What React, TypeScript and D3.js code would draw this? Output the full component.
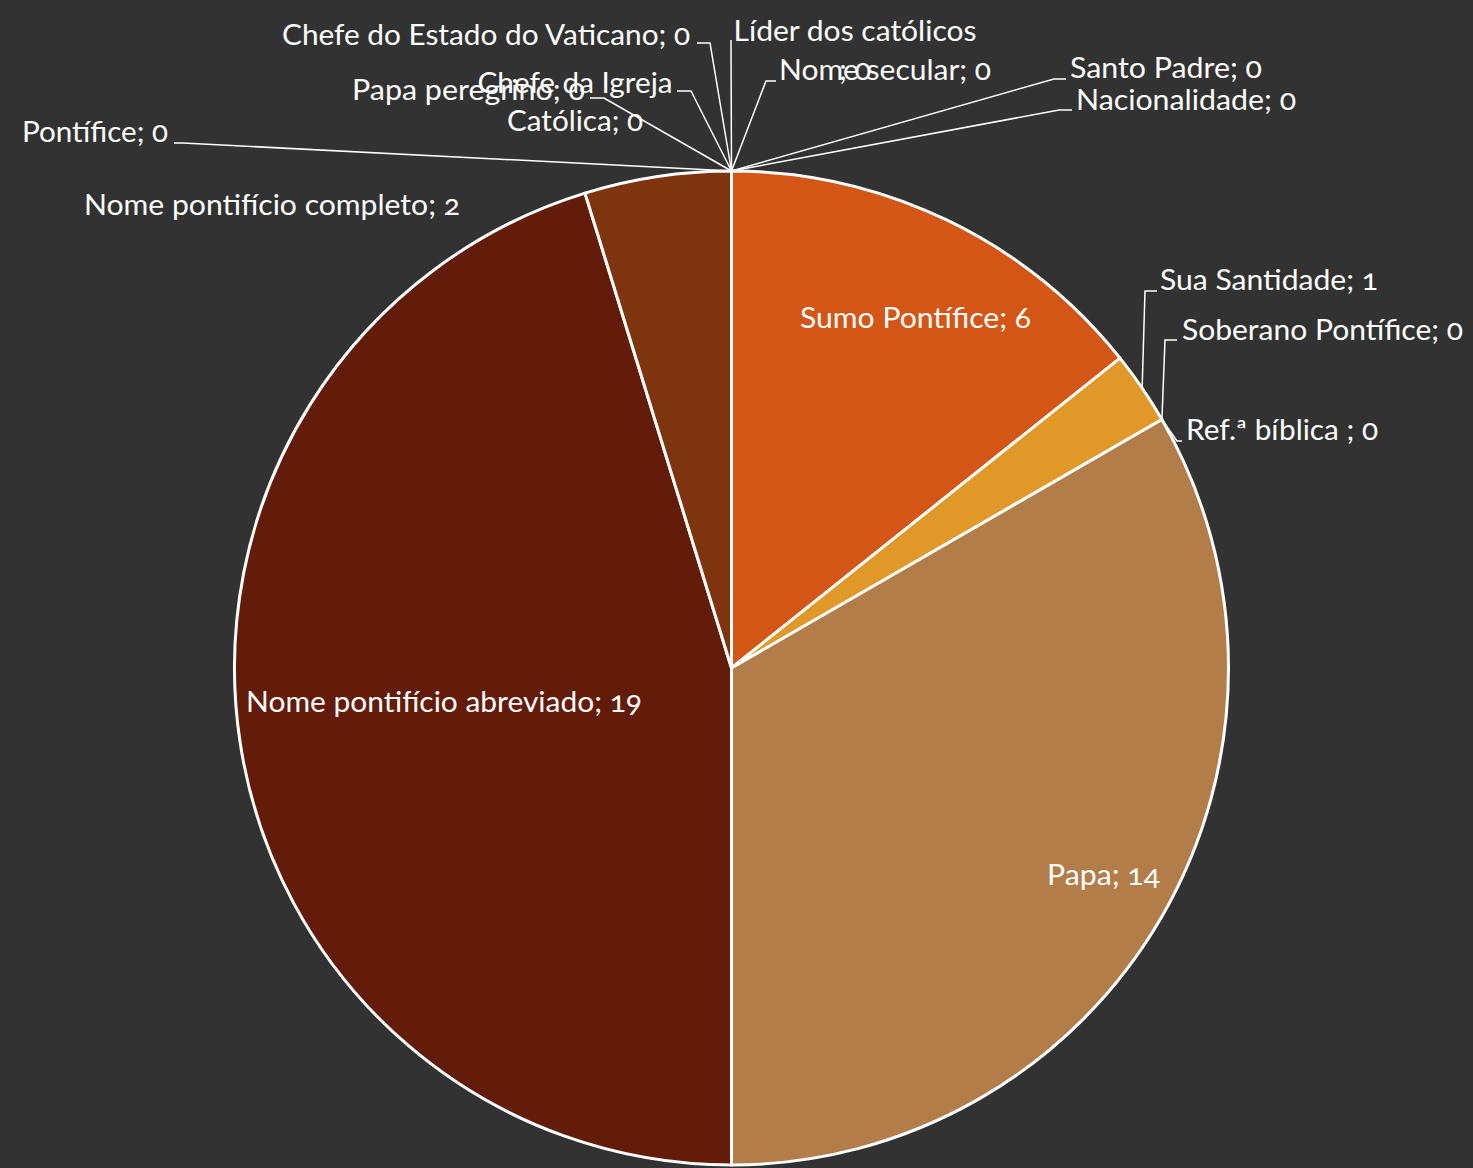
import React, { useEffect } from "react";
import * as d3 from "d3";

const categories = [
  "Sumo Pontífice",
  "Sua Santidade",
  "Soberano Pontífice",
  "Ref.ª bíblica ",
  "Papa",
  "Nome pontifício abreviado",
  "Nome pontifício completo",
  "Pontífice",
  "Papa peregrino",
  "Chefe da Igreja Católica",
  "Chefe do Estado do Vaticano",
  "Líder dos católicos",
  "Nome secular",
  "Santo Padre",
  "Nacionalidade",
];
const values = [6, 1, 0, 0, 14, 19, 2, 0, 0, 0, 0, 0, 0, 0, 0];
const sliceColors = [
  "#D45616", "#E09828", "#C0742E", "#B88A50", "#B37D4A", "#631C0A", "#7D340F",
  "#8A4A1A", "#9A5A22", "#AA6A2A", "#BA7A32", "#CA8A3A", "#DA9A42", "#EAAA4A", "#F0B050",
];

type Line = { t: string; x: number; y: number; w: number; anchor: "start" | "middle" };
type Lay = { lines: Line[]; leader?: [number, number][]; edge?: "mid" | "end" | "start" };

const W = 1473;
const H = 1168;
const CX = 731.5;
const CY = 668;
const R = 497;

export default function App() {
  useEffect(() => {
    document.body.style.margin = "0";
    document.body.style.background = "#323232";
  }, []);

  const pie = d3.pie<number>().sort(null).value((d) => d)(values);
  const arc = d3.arc<d3.PieArcDatum<number>>().innerRadius(0).outerRadius(R);
  const pt = (a: number): [number, number] => [CX + R * Math.sin(a), CY - R * Math.cos(a)];

  const label = (i: number) => `${categories[i]}; ${values[i]}`;

  const layout: Record<number, Lay> = {
    0: { lines: [{ t: label(0), x: 800, y: 318, w: 231, anchor: "start" }] },
    1: { lines: [{ t: label(1), x: 1160, y: 280, w: 218, anchor: "start" }], leader: [[1157, 291], [1145, 291]], edge: "mid" },
    2: { lines: [{ t: label(2), x: 1182, y: 330, w: 281, anchor: "start" }], leader: [[1177, 340], [1165, 340]], edge: "start" },
    3: { lines: [{ t: label(3), x: 1186, y: 430, w: 192, anchor: "start" }], leader: [[1182, 441], [1177, 441]], edge: "start" },
    4: { lines: [{ t: label(4), x: 1047, y: 875, w: 113, anchor: "start" }] },
    5: { lines: [{ t: label(5), x: 246, y: 702, w: 396, anchor: "start" }] },
    6: { lines: [{ t: label(6), x: 84, y: 205, w: 376, anchor: "start" }] },
    7: { lines: [{ t: label(7), x: 22, y: 132, w: 146, anchor: "start" }], leader: [[174, 143], [183, 143]], edge: "end" },
    8: { lines: [{ t: label(8), x: 352, y: 90, w: 233, anchor: "start" }], leader: [[590, 98], [604, 98]], edge: "end" },
    9: {
      lines: [
        { t: "Chefe da Igreja", x: 575, y: 83, w: 195, anchor: "middle" },
        { t: `Católica; ${values[9]}`, x: 575, y: 121, w: 136, anchor: "middle" },
      ],
      leader: [[677, 91], [691, 91]],
      edge: "end",
    },
    10: { lines: [{ t: label(10), x: 282, y: 35, w: 408, anchor: "start" }], leader: [[697, 43], [710, 43]], edge: "end" },
    11: {
      lines: [
        { t: "Líder dos católicos", x: 855, y: 31, w: 243, anchor: "middle" },
        { t: `; ${values[11]}`, x: 855, y: 70, w: 32, anchor: "middle" },
      ],
      leader: [[731, 40]],
      edge: "end",
    },
    12: { lines: [{ t: label(12), x: 779, y: 70, w: 212, anchor: "start" }], leader: [[776, 81], [766, 81]], edge: "end" },
    13: { lines: [{ t: label(13), x: 1070, y: 68, w: 192, anchor: "start" }], leader: [[1066, 79], [1054, 79]], edge: "end" },
    14: { lines: [{ t: label(14), x: 1076, y: 100, w: 220, anchor: "start" }], leader: [[1072, 110], [1059, 110]], edge: "end" },
  };

  return (
    <svg width={W} height={H} style={{ display: "block", background: "#323232", fontVariantNumeric: "oldstyle-nums" }}
      fontFamily="Lato, 'Open Sans', sans-serif">
      <rect width={W} height={H} fill="#323232" />
      <g transform={`translate(${CX},${CY})`}>
        {pie.map((d, i) =>
          d.value > 0 ? (
            <path key={i} d={arc(d) || ""} fill={sliceColors[i]} stroke="#FFFFFF" strokeWidth={3} strokeLinejoin="round" />
          ) : null
        )}
      </g>
      {pie.map((d, i) => {
        const lay = layout[i];
        if (!lay || !lay.leader) return null;
        const a = lay.edge === "mid" ? (d.startAngle + d.endAngle) / 2 : lay.edge === "start" ? d.startAngle : d.endAngle;
        const pts = [...lay.leader, pt(a)];
        return (
          <polyline key={"l" + i} points={pts.map((p) => p.join(",")).join(" ")} fill="none" stroke="#FFFFFF" strokeWidth={1.5} />
        );
      })}
      {pie.map((d, i) =>
        layout[i].lines.map((ln, j) => (
          <text key={`t${i}-${j}`} x={ln.x} y={ln.y} dy="0.36em" fill="#FFFFFF" fontSize={28}
            textAnchor={ln.anchor} textLength={ln.w} lengthAdjust="spacingAndGlyphs">
            {ln.t}
          </text>
        ))
      )}
    </svg>
  );
}
